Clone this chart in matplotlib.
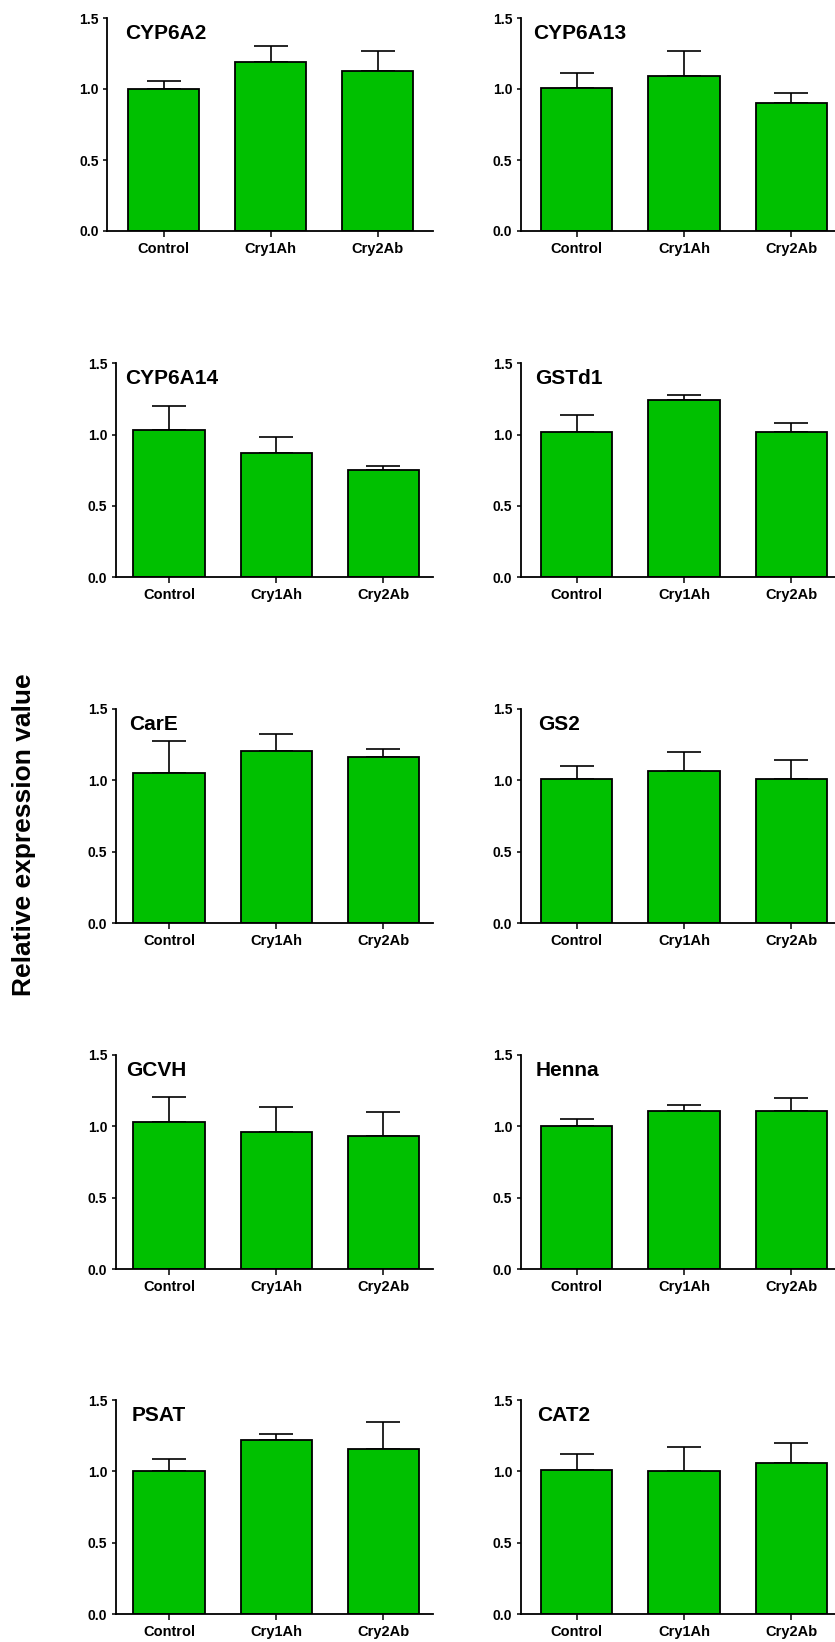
import matplotlib
matplotlib.use("Agg")
import matplotlib.pyplot as plt

plt.rcParams['font.family'] = ['Liberation Sans', 'DejaVu Sans']

categories = ["Control", "Cry1Ah", "Cry2Ab"]
genes = ["CYP6A2", "CYP6A13", "CYP6A14", "GSTd1", "CarE", "GS2",
         "GCVH", "Henna", "PSAT", "CAT2"]
means = [
    [1.00, 1.19, 1.13],   # CYP6A2
    [1.01, 1.09, 0.90],   # CYP6A13
    [1.03, 0.87, 0.75],   # CYP6A14
    [1.02, 1.24, 1.015],  # GSTd1
    [1.05, 1.205, 1.165], # CarE
    [1.01, 1.065, 1.01],  # GS2
    [1.03, 0.96, 0.935],  # GCVH
    [1.00, 1.11, 1.11],   # Henna
    [1.005, 1.22, 1.16],  # PSAT
    [1.01, 1.005, 1.06],  # CAT2
]
errors = [
    [0.056, 0.11, 0.14],
    [0.10, 0.18, 0.075],
    [0.17, 0.11, 0.033],
    [0.117, 0.037, 0.066],
    [0.224, 0.12, 0.058],
    [0.091, 0.135, 0.133],
    [0.177, 0.176, 0.166],
    [0.054, 0.04, 0.087],
    [0.084, 0.042, 0.187],
    [0.112, 0.166, 0.138],
]
yticks = [0.0, 0.5, 1.0, 1.5]
ylabel = "Relative expression value"

W, H = 835, 1642
fig = plt.figure(figsize=(W / 100, H / 100), dpi=100)

row_top = [18, 363.3, 709, 1055, 1400]
row_bot = [231, 577.3, 923.3, 1269, 1614]
# (spine left px, first category centre px, spacing px, right px)
left_col = (115.7, 169.0, 107.2, 433.0)
left_row1 = (107.0, 163.5, 107.0, 433.0)
right_col = (520.5, 576.5, 107.4, 845.0)
title_off = [18, 13, 9, 15, 13.5, 17.5, 10, 15, 16, 17]

green = "#00C000"

for i, gene in enumerate(genes):
    r, c = divmod(i, 2)
    if c == 0:
        geo = left_row1 if r == 0 else left_col
    else:
        geo = right_col
    lpx, c0, sp, rpx = geo
    top, bot = row_top[r], row_bot[r]
    ax = fig.add_axes([lpx / W, 1 - bot / H, (rpx - lpx) / W, (bot - top) / H])
    ax.set_xlim((lpx - c0) / sp, (rpx - c0) / sp)
    ax.set_ylim(0, 1.5)
    x = list(range(len(categories)))
    ax.bar(x, means[i], width=0.665, color=green, edgecolor="black",
           linewidth=1.3, zorder=2)
    ax.errorbar(x, means[i], yerr=[[0] * 3, errors[i]], fmt="none",
                ecolor="black", elinewidth=1.2, capsize=12.5, capthick=1.2,
                zorder=1)
    for s in ["top", "right"]:
        ax.spines[s].set_visible(False)
    for s in ["left", "bottom"]:
        ax.spines[s].set_linewidth(1.3)
    ax.set_yticks(yticks)
    ax.set_yticklabels([f"{v:.1f}" for v in yticks], fontsize=10,
                       fontweight="bold")
    ax.set_xticks(x)
    ax.set_xticklabels(categories, fontsize=10.5, fontweight="bold")
    ax.tick_params(axis="y", length=3, width=1.1, pad=3)
    ax.tick_params(axis="x", length=4, width=1.1, pad=4)
    tx = (lpx + title_off[i] - c0) / sp
    ax.text(tx, 1.355, gene, fontsize=15, fontweight="bold",
            ha="left", va="baseline")

fig.text(24 / W, 1 - 835 / H, ylabel, rotation=90, fontsize=19,
         fontweight="bold", ha="center", va="center")

fig.savefig("out.png", dpi=100)
